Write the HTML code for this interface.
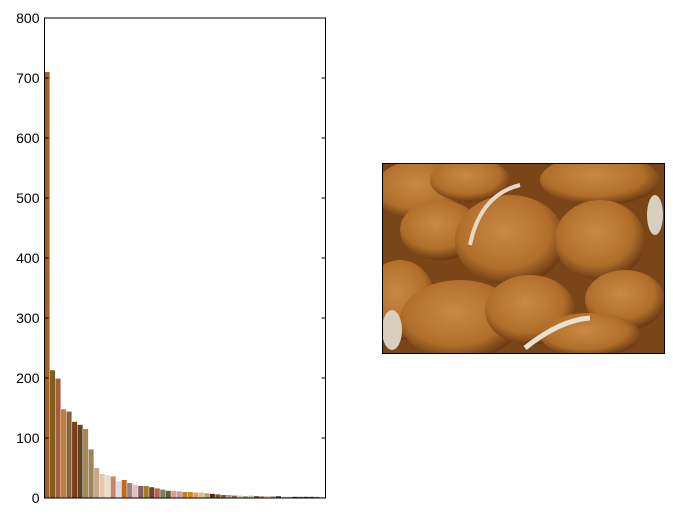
<!DOCTYPE html>
<html><head><meta charset="utf-8"><style>
body{margin:0;background:#fff;}
svg{display:block;font-family:"Liberation Sans",sans-serif;}
</style></head><body>
<svg id="c" width="673" height="517">
<g id="bars"></g>
<g id="axes"></g>
<g id="photo">
<defs>
<clipPath id="pc"><rect x="383" y="164" width="281" height="189"/></clipPath>
<radialGradient id="og" cx="0.45" cy="0.4" r="0.6"><stop offset="0" stop-color="#c98a45"/><stop offset="0.7" stop-color="#b06e2a"/><stop offset="1" stop-color="#6b3a12"/></radialGradient>
</defs>
<g clip-path="url(#pc)">
<rect x="383" y="164" width="281" height="189" fill="#7a4618"/>
<ellipse cx="420" cy="190" rx="45" ry="30" fill="url(#og)"/>
<ellipse cx="470" cy="180" rx="40" ry="22" fill="url(#og)"/>
<ellipse cx="600" cy="180" rx="60" ry="25" fill="url(#og)"/>
<ellipse cx="440" cy="230" rx="40" ry="30" fill="url(#og)"/>
<ellipse cx="400" cy="300" rx="35" ry="40" fill="url(#og)"/>
<ellipse cx="510" cy="240" rx="55" ry="45" fill="url(#og)"/>
<ellipse cx="600" cy="240" rx="45" ry="40" fill="url(#og)"/>
<ellipse cx="625" cy="300" rx="40" ry="30" fill="url(#og)"/>
<ellipse cx="460" cy="320" rx="60" ry="40" fill="url(#og)"/>
<ellipse cx="530" cy="310" rx="45" ry="35" fill="url(#og)"/>
<ellipse cx="590" cy="335" rx="50" ry="22" fill="url(#og)"/>
<path d="M470 245 Q480 195 520 185" stroke="#e8d8c0" stroke-width="4" fill="none"/>
<path d="M525 348 Q560 320 590 318" stroke="#e8e0d0" stroke-width="5" fill="none"/>
<ellipse cx="392" cy="330" rx="10" ry="20" fill="#d8cfc0"/>
<ellipse cx="655" cy="215" rx="8" ry="20" fill="#d8cfc0"/>
</g>
<rect x="382.5" y="163.5" width="282" height="190" fill="none" stroke="#000" stroke-width="1"/>
</g>
</svg>
<script>
const values=[710,213,199,148,144,127,122,115,81,50,40,38,36,28,30,25,22,20,20,18,16,14,12,12,11,10,10,9,9,8,7,6,5,5,4,4,3,4,3,3,3,3,3,2,2,2,2,2,2,2,1];
const colors=["#a8601e","#7f5e22","#a55e3c","#c07f3e","#86633f","#7c3f1e","#5f4428","#a38a55","#a1815e","#c8a888","#e6c6a8","#e2e0c8","#c88468","#dcdcdc","#c06828","#a08080","#e0c0c0","#846060","#a08020","#704040","#c06040","#808060","#606040","#e0a080","#c0a0a0","#c08030","#d08820","#e0a060","#d8c080","#c0a060","#503020","#606020","#905050","#a0a080","#906060","#e0c0c0","#a0a060","#c0c0c0","#505030","#b08080","#d0d0a0","#a0a0a0","#404040","#c0c080","#e0a040","#303030","#705060","#402030","#404050","#808080","#303030"];
const yTicks=[0,100,200,300,400,500,600,700,800];
const X0=44.5,X1=325.5,Y0=498,Y1=18,YMAX=800;
const ns="http://www.w3.org/2000/svg";
const y=v=>Y0-(v/YMAX)*(Y0-Y1);
const pitch=(X1-X0)/values.length;
const x=i=>X0+i*pitch;
const bars=document.getElementById('bars');
values.forEach((v,i)=>{
 const r=document.createElementNS(ns,'rect');
 r.setAttribute('x',x(i));r.setAttribute('width',pitch*0.92);
 r.setAttribute('y',y(v));r.setAttribute('height',Y0-y(v));
 r.setAttribute('fill',colors[i%colors.length]);
 
 
 bars.appendChild(r);
});
const ax=document.getElementById('axes');
const fr=document.createElementNS(ns,'rect');
fr.setAttribute('x',X0);fr.setAttribute('y',Y1);fr.setAttribute('width',X1-X0);fr.setAttribute('height',Y0-Y1);
fr.setAttribute('fill','none');fr.setAttribute('stroke','#000');


ax.appendChild(fr);
yTicks.forEach(t=>{
 const yy=y(t);
 [[X0,X0+4],[X1,X1-4]].forEach(p=>{
  const l=document.createElementNS(ns,'line');
  l.setAttribute('x1',p[0]);l.setAttribute('x2',p[1]);l.setAttribute('y1',yy);l.setAttribute('y2',yy);
  l.setAttribute('stroke','#000');
  
  
  ax.appendChild(l);
 });
 const tx=document.createElementNS(ns,'text');
 tx.setAttribute('x',X0-5);tx.setAttribute('y',yy+5);tx.setAttribute('text-anchor','end');
 tx.setAttribute('font-size','14');tx.textContent=t;
 
 
 ax.appendChild(tx);
});
</script>
</body></html>
